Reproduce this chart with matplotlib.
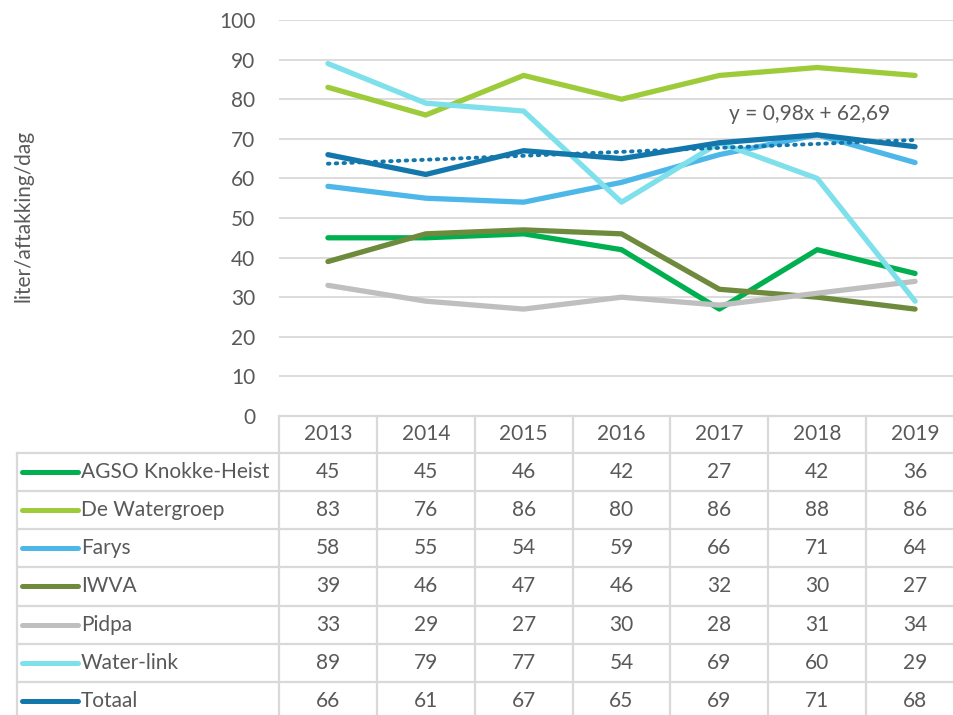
import matplotlib
matplotlib.use("Agg")
import matplotlib.pyplot as plt
import matplotlib.transforms as mtransforms
import numpy as np

years = ["2013", "2014", "2015", "2016", "2017", "2018", "2019"]
series_names = ["AGSO Knokke-Heist", "De Watergroep", "Farys", "IWVA", "Pidpa", "Water-link", "Totaal"]
agso = [45, 45, 46, 42, 27, 42, 36]
watergroep = [83, 76, 86, 80, 86, 88, 86]
farys = [58, 55, 54, 59, 66, 71, 64]
iwva = [39, 46, 47, 46, 32, 30, 27]
pidpa = [33, 29, 27, 30, 28, 31, 34]
waterlink = [89, 79, 77, 54, 69, 60, 29]
totaal = [66, 61, 67, 65, 69, 71, 68]
series_values = [agso, watergroep, farys, iwva, pidpa, waterlink, totaal]
colors = ["#00B050", "#9ECB3A", "#4EB7EA", "#6E8B3D", "#BFBFBF", "#7EE0EA", "#1477AC"]
y_label = "liter/aftakking/dag"
trend_label = "y = 0,98x + 62,69"

plt.rcParams['font.family'] = ['Lato', 'DejaVu Sans']
TXT = "#595959"
GRID = "#D9D9D9"
FS = 15

W, H = 954, 715
fig = plt.figure(figsize=(W / 100, H / 100), dpi=100)
left_px, right_px, top_px, bot_px = 279, 964, 20, 416
ax = fig.add_axes([left_px / W, 1 - bot_px / H, (right_px - left_px) / W, (bot_px - top_px) / H])

x = np.arange(len(years))
for name, vals, c in zip(series_names, series_values, colors):
    ax.plot(x, vals, color=c, lw=3.8, solid_capstyle='round', solid_joinstyle='round', zorder=3)

# linear trendline on Totaal (x = 1..n as in Excel)
xx = np.arange(1, len(years) + 1)
k, b = np.polyfit(xx, totaal, 1)
ax.plot(x, k * xx + b, color=colors[-1], lw=2.8, ls=(0, (0.4, 1.6)), dash_capstyle='round', zorder=4)
ax.text(4.92, 76.3, trend_label, ha='center', va='center', fontsize=FS, color=TXT, zorder=5)

ax.set_xlim(-0.5, len(years) - 0.5)
ax.set_ylim(0, 100)
ax.set_yticks(np.arange(0, 101, 10))
ax.tick_params(axis='y', length=0, pad=17, labelsize=FS, labelcolor=TXT)
ax.set_xticks([])
for s in ax.spines.values():
    s.set_visible(False)
ax.grid(axis='y', color=GRID, lw=1.3, zorder=0)
ax.set_axisbelow(True)
fig.text(24 / W, 1 - 216 / H, y_label, rotation=90, ha='center', va='center', fontsize=FS, color=TXT)

# data table below the axes: x in data coords, y in pixels (axes-relative)
ph = bot_px - top_px
trans = mtransforms.blended_transform_factory(ax.transData, ax.transAxes)
def yp(py):
    return (bot_px - py) / ph

unit = (right_px - left_px) / len(years)
lab_left = -0.5 - (left_px - 17) / unit
header_bot = 452.7
row_h = 38.2
nrows = len(series_names)
table_bot = header_bot + nrows * row_h
lk = dict(color=GRID, lw=1.6, transform=trans, clip_on=False, zorder=1)

# horizontal lines
ax.plot([-0.5, len(years) - 0.5], [yp(bot_px), yp(bot_px)], **lk)
for i in range(nrows + 1):
    yy = yp(header_bot + i * row_h)
    ax.plot([lab_left, len(years) - 0.5], [yy, yy], **lk)
# vertical lines
ax.plot([lab_left, lab_left], [yp(header_bot), yp(table_bot)], **lk)
for j in range(len(years) + 1):
    xv = j - 0.5
    ax.plot([xv, xv], [yp(bot_px), yp(table_bot)], **lk)

# header
for j, yr in enumerate(years):
    ax.text(j, yp((bot_px + header_bot) / 2), yr, ha='center', va='center', fontsize=FS,
            color=TXT, transform=trans, clip_on=False)
# rows
key_x0 = -0.5 - (left_px - 22) / unit
key_x1 = -0.5 - (left_px - 78) / unit
text_x = -0.5 - (left_px - 81) / unit
for i, (name, vals, c) in enumerate(zip(series_names, series_values, colors)):
    yc = yp(header_bot + (i + 0.5) * row_h)
    ax.plot([key_x0, key_x1], [yc, yc], color=c, lw=3.6, solid_capstyle='round',
            transform=trans, clip_on=False, zorder=3)
    ax.text(text_x, yc, name, ha='left', va='center', fontsize=FS, color=TXT,
            transform=trans, clip_on=False)
    for j, v in enumerate(vals):
        ax.text(j, yc, f"{v:.0f}", ha='center', va='center', fontsize=FS, color=TXT,
                transform=trans, clip_on=False)

fig.savefig("out.png", dpi=100)
